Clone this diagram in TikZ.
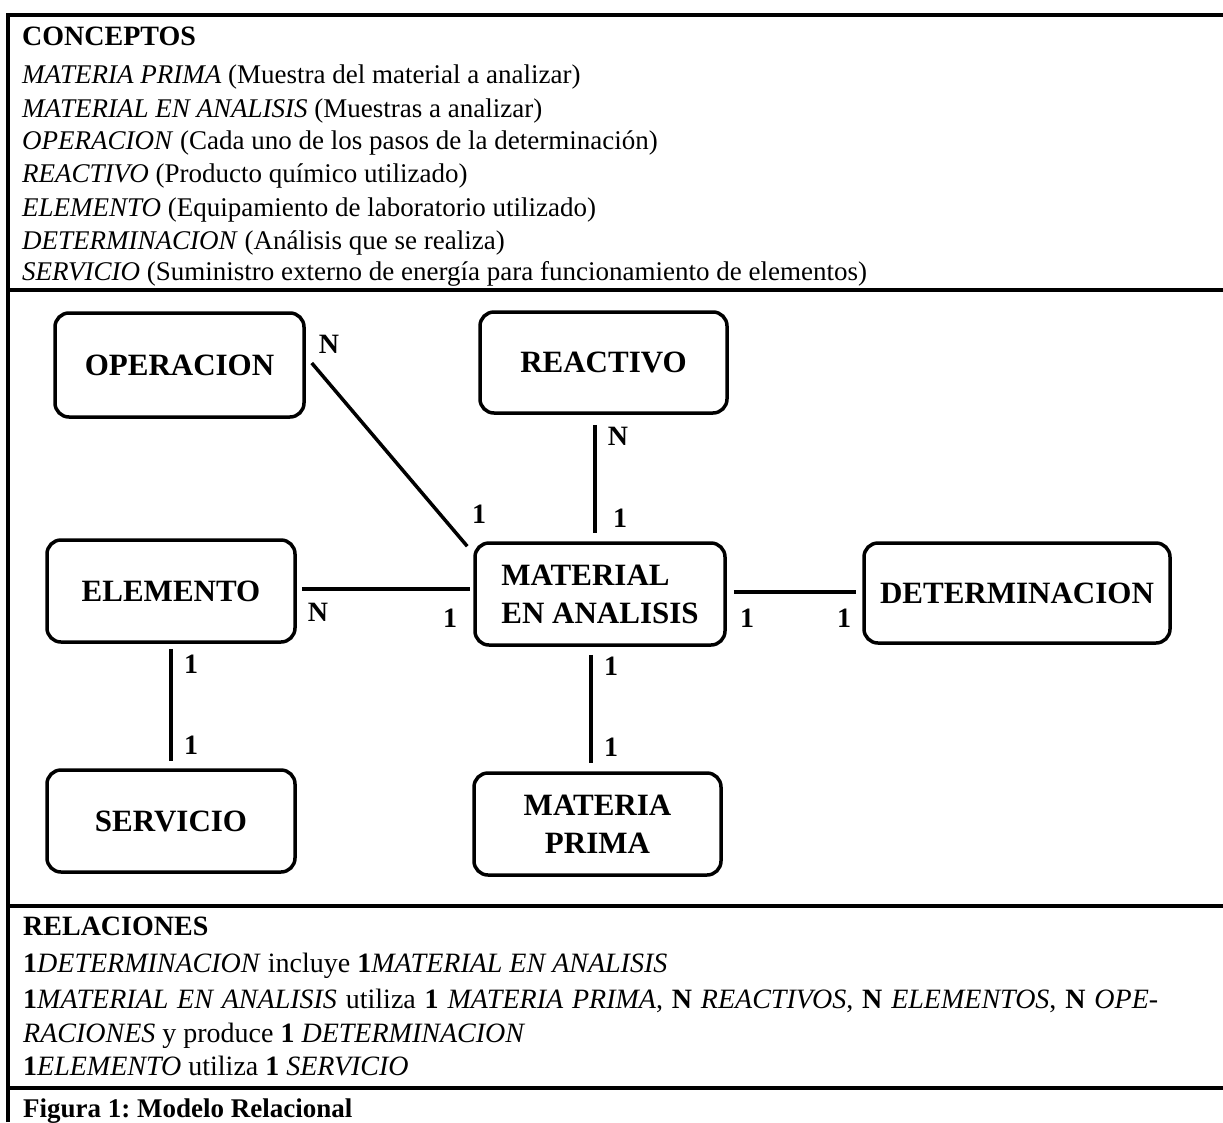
\documentclass[tikz,border=0pt]{standalone}
\usepackage{fontspec}
\setmainfont{Liberation Serif}
\usetikzlibrary{positioning}

\tikzset{
  marco/.style={line width=4pt},
  divisor/.style={line width=3.5pt},
  texto/.style={anchor=base west, inner sep=0pt, font=\fontsize{27}{32}\selectfont},
  textor/.style={anchor=base west, inner sep=0pt, font=\fontsize{28}{32}\selectfont},
  titulo/.style={anchor=base west, inner sep=0pt, font=\fontsize{28}{32}\selectfont\bfseries},
  entidad/.style={draw, rounded corners=14pt, line width=3.5pt, inner sep=0pt,
                  font=\fontsize{31}{38}\selectfont\bfseries},
  enlace/.style={line width=3.5pt},
  card/.style={inner sep=0pt, font=\fontsize{28}{28}\selectfont\bfseries}
}

\begin{document}
\frenchspacing
\begin{tikzpicture}[x=1pt,y=-1pt]
  \useasboundingbox (0,0) rectangle (1223,1122);

  % marco y divisiones
  \draw[marco] (8,1122) -- (8,15) -- (1223,15);
  \draw[divisor] (8,290) -- (1223,290);
  \draw[divisor] (8,906) -- (1223,906);
  \draw[divisor] (8,1088) -- (1223,1088);

  % conceptos
  \node[titulo] (conceptos) at (22,45) {CONCEPTOS};
  \node[texto] (cPrima) at (22,83) {\textit{MATERIA PRIMA} (Muestra del material a analizar)};
  \node[texto] (cMaterial) at (22,117) {\textit{MATERIAL EN ANALISIS} (Muestras a analizar)};
  \node[texto] (cOperacion) at (22,149) {\textit{OPERACION} (Cada uno de los pasos de la determinación)};
  \node[texto] (cReactivo) at (22,182) {\textit{REACTIVO} (Producto químico utilizado)};
  \node[texto] (cElemento) at (22,216) {\textit{ELEMENTO} (Equipamiento de laboratorio utilizado)};
  \node[texto] (cDeterminacion) at (22,249) {\textit{DETERMINACION} (Análisis que se realiza)};
  \node[texto] (cServicio) at (22,280) {\textit{SERVICIO} (Suministro externo de energía para funcionamiento de elementos)};

  % entidades
  \node[entidad, minimum width=249pt, minimum height=104pt] (operacion) at (179.5,365) {OPERACION};
  \node[entidad, minimum width=247pt, minimum height=101pt] (reactivo) at (603.5,362.5) {REACTIVO};
  \node[entidad, minimum width=248pt, minimum height=102pt] (elemento) at (171,591) {ELEMENTO};
  \node[entidad, minimum width=250pt, minimum height=102pt, align=left] (material) at (600,594) {MATERIAL\\EN ANALISIS};
  \node[entidad, minimum width=306pt, minimum height=100pt] (determinacion) at (1017,593) {DETERMINACION};
  \node[entidad, minimum width=248pt, minimum height=102pt] (servicio) at (171,821) {SERVICIO};
  \node[entidad, minimum width=247pt, minimum height=102pt, align=center] (prima) at (597.5,824) {MATERIA\\PRIMA};

  % relaciones
  \draw[enlace] ([xshift=6pt,yshift=2pt]operacion.east) -- ([xshift=-6pt,yshift=-5pt]material.north west);
  \draw[enlace] ([xshift=-8.5pt,yshift=-10pt]reactivo.south) -- ([xshift=-5pt,yshift=8pt]material.north);
  \draw[enlace] ([xshift=5pt,yshift=2pt]elemento.east) -- ([xshift=-3pt,yshift=5pt]material.west);
  \draw[enlace] ([xshift=7pt,yshift=2pt]material.east) -- ([xshift=-6pt,yshift=1pt]determinacion.west);
  \draw[enlace] ([yshift=-5pt]elemento.south) -- ([yshift=7pt]servicio.north);
  \draw[enlace] ([xshift=-9pt,yshift=-8pt]material.south) -- ([xshift=-6.5pt,yshift=8pt]prima.north);

  % cardinalidades
  \node[card] (nOperacion) at (329,344) {N};
  \node[card] (uOperacion) at (479,514) {1};
  \node[card] (nReactivo) at (618,436) {N};
  \node[card] (uReactivo) at (620,518) {1};
  \node[card] (nElemento) at (318,612) {N};
  \node[card] (uElemento) at (450,618) {1};
  \node[card] (uMatDet) at (747,618) {1};
  \node[card] (uDetMat) at (844,618) {1};
  \node[card] (uElemServ) at (191,664) {1};
  \node[card] (uServElem) at (191,745) {1};
  \node[card] (uMatPrima) at (611,666) {1};
  \node[card] (uPrimaMat) at (611,747) {1};

  % relaciones (texto)
  \node[titulo] (relaciones) at (23,935) {RELACIONES};
  \node[textor] (rUno) at (23,972) {\textbf{1}\textit{DETERMINACION} incluye \textbf{1}\textit{MATERIAL EN ANALISIS}};
  \node[textor] (rDos) at (23,1008) {\makebox[1135pt][s]{\textbf{1}\textit{MATERIAL EN ANALISIS} utiliza \textbf{1} \textit{MATERIA PRIMA}, \textbf{N} \textit{REACTIVOS}, \textbf{N} \textit{ELEMENTOS}, \textbf{N} \textit{OPE-}}};
  \node[textor] (rTres) at (23,1042) {\textit{RACIONES} y produce \textbf{1} \textit{DETERMINACION}};
  \node[textor] (rCuatro) at (23,1075) {\textbf{1}\textit{ELEMENTO} utiliza \textbf{1} \textit{SERVICIO}};
  \node[titulo, font=\fontsize{27}{32}\selectfont\bfseries] (figura) at (23,1117) {Figura 1: Modelo Relacional};
\end{tikzpicture}
\end{document}
